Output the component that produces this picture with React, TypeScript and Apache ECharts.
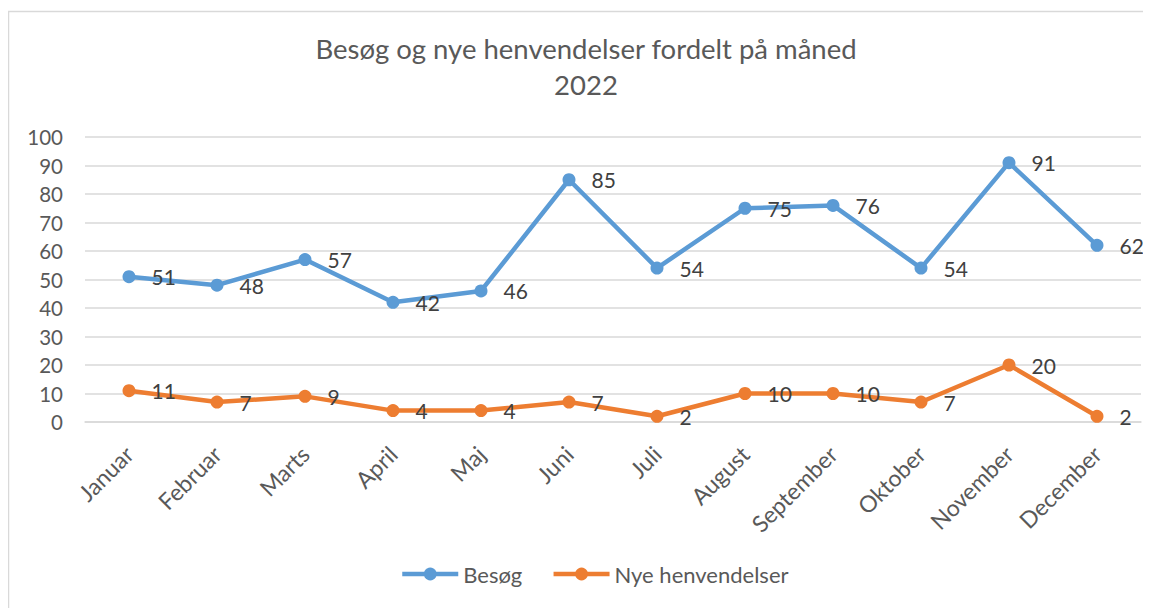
import React, { useEffect, useRef } from "react";
import * as echarts from "echarts";

const months = ["Januar","Februar","Marts","April","Maj","Juni","Juli","August","September","Oktober","November","December"];
const besog = [51,48,57,42,46,85,54,75,76,54,91,62];
const nye = [11,7,9,4,4,7,2,10,10,7,20,2];
const seriesNames = ["Besøg","Nye henvendelser"];
const titleLines = ["Besøg og nye henvendelser fordelt på måned", "2022"];

const FONT = "Lato";

export default function App() {
  const ref = useRef<HTMLDivElement>(null);
  useEffect(() => {
    const chart = echarts.init(ref.current!, null, { renderer: "svg" });
    const mkSeries = (name: string, data: number[], color: string) => ({
      name,
      type: "line",
      data,
      symbol: "circle",
      symbolSize: 13,
      lineStyle: { width: 4.5, color },
      itemStyle: { color },
      label: {
        show: true,
        position: "right",
        distance: 16,
        fontSize: 21,
        color: "#404040",
        fontFamily: FONT,
      },
    });
    chart.setOption({
      animation: false,
      backgroundColor: "#fff",
      textStyle: { fontFamily: FONT },
      title: {
        text: titleLines.join("\n"),
        left: 573,
        textAlign: "center",
        top: 17,
        textStyle: { fontSize: 27.5, fontWeight: "normal", color: "#595959", lineHeight: 36, fontFamily: FONT },
      },
      graphic: [
        {
          type: "rect",
          shape: { x: 0.5, y: 3.5, width: 1200, height: 700 },
          style: { fill: "none", stroke: "#d9d9d9", lineWidth: 1.5 },
          silent: true,
        },
      ],
      legend: {
        bottom: 18,
        left: 387,
        itemWidth: 56,
        itemHeight: 16,
        itemGap: 29,
        lineStyle: { width: 4.5 },
        textStyle: { fontSize: 22, color: "#595959", fontFamily: FONT },
        data: seriesNames,
      },
      grid: { left: 77, right: 10, top: 129, bottom: 186, containLabel: false },
      xAxis: {
        type: "category",
        data: months,
        boundaryGap: true,
        axisLine: { show: true, lineStyle: { color: "#d9d9d9", width: 1.5 } },
        axisTick: { show: false },
        axisLabel: { rotate: 45, fontSize: 23, color: "#595959", margin: 28, interval: 0, fontFamily: FONT },
      },
      yAxis: {
        type: "value",
        min: 0,
        max: 100,
        interval: 10,
        axisLine: { show: false },
        axisTick: { show: false },
        axisLabel: { fontSize: 20.5, color: "#595959", margin: 22, fontFamily: FONT },
        splitLine: { lineStyle: { color: "#d9d9d9", width: 1.5 } },
      },
      series: [
        mkSeries(seriesNames[0], besog, "#5B9BD5"),
        mkSeries(seriesNames[1], nye, "#ED7D31"),
      ],
    });
    return () => chart.dispose();
  }, []);
  return <div ref={ref} style={{ width: 1143, height: 600 }} />;
}
